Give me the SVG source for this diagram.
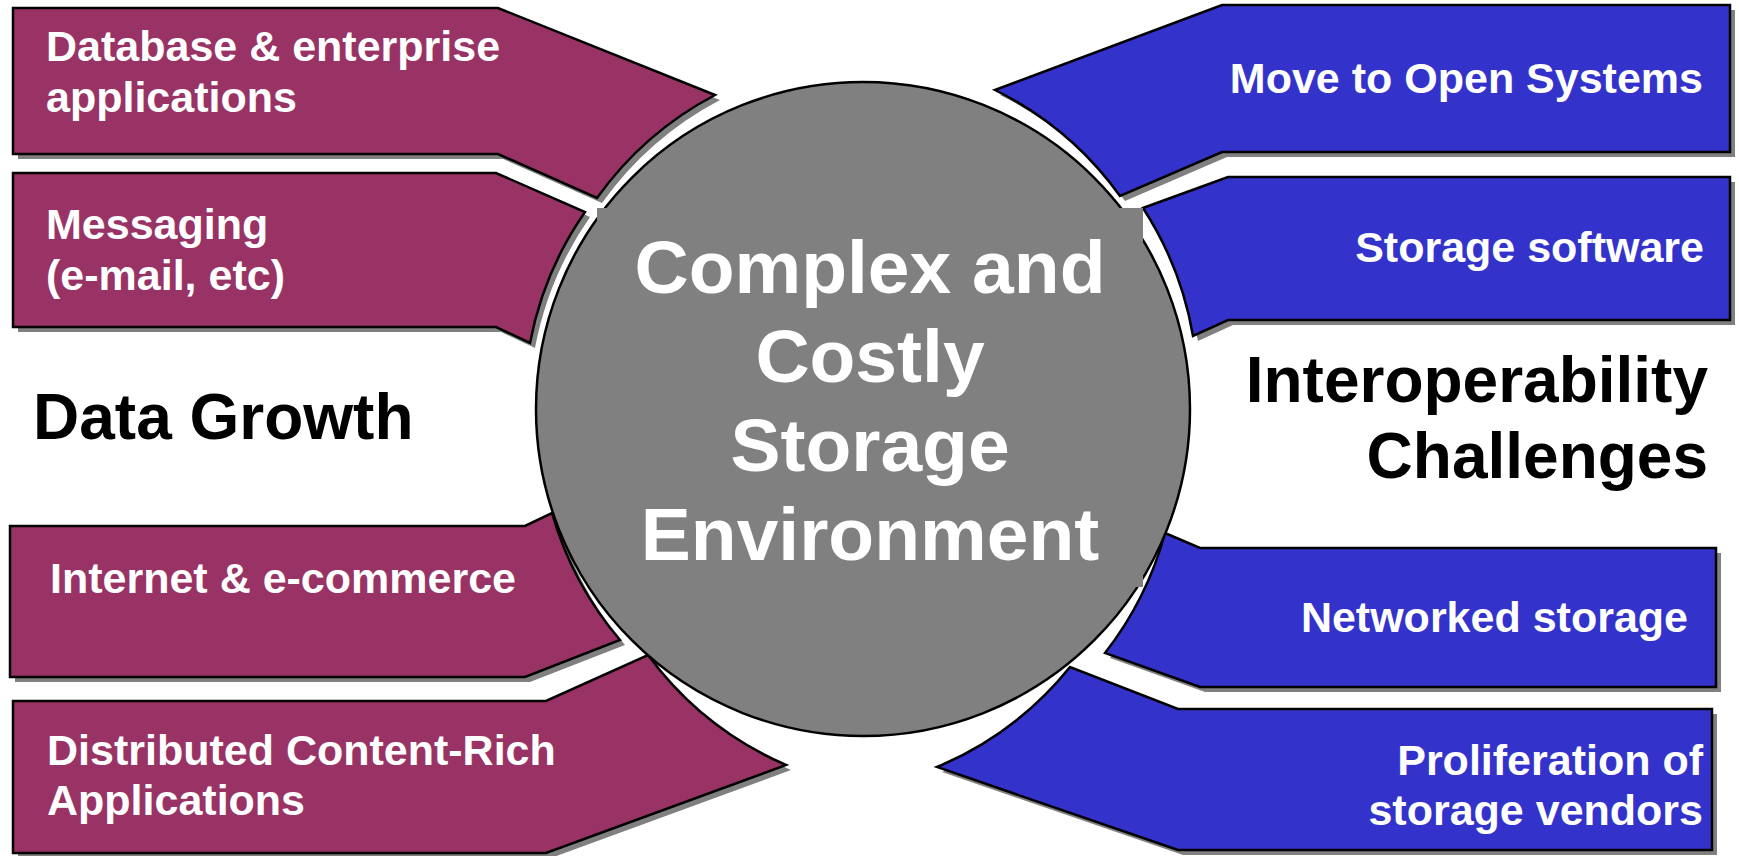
<svg xmlns="http://www.w3.org/2000/svg" width="1739" height="856" viewBox="0 0 1739 856">
<style>
.sh{fill:#808080;stroke:none}
.pu{fill:#993366;stroke:#000;stroke-width:2.5;stroke-linejoin:miter}
.bl{fill:#3333CC;stroke:#000;stroke-width:2.5;stroke-linejoin:miter}
.lbl{font-family:"Liberation Sans",Arial,sans-serif;font-weight:bold;font-size:43px;fill:#fff}
.r{text-anchor:end}
.ttl{font-family:"Liberation Sans",Arial,sans-serif;font-weight:bold;font-size:64px;fill:#000}
.ctr{font-family:"Liberation Sans",Arial,sans-serif;font-weight:bold;font-size:75px;fill:#fff;text-anchor:middle}
</style>
<defs>
<path id="p1" d="M13,8 L498,8 L715,95 A340,340 0 0,0 597,198 L498,154 L13,154 Z"/>
<path id="p2" d="M13,173 L496,173 L585,212 A340,340 0 0,0 530,343 L496,327 L13,327 Z"/>
<path id="p3" d="M10,526 L525,526 L552,513 A340,340 0 0,0 620,640 L525,677 L10,677 Z"/>
<path id="p4" d="M13,701 L546,701 L648,655 A340,340 0 0,0 786,765 L546,853 L13,853 Z"/>
<path id="p5" d="M1730,5 L1222,5 L995,90 A340,340 0 0,1 1120,196 L1222,152 L1730,152 Z"/>
<path id="p6" d="M1730,177 L1228,177 L1143,208 A340,340 0 0,1 1193,336 L1228,320 L1730,320 Z"/>
<path id="p7" d="M1716,548 L1200,548 L1165,533 A340,340 0 0,1 1105,653 L1200,687 L1716,687 Z"/>
<path id="p8" d="M1712,709 L1178,709 L1070,667 A340,340 0 0,1 937,767 L1178,850 L1712,850 Z"/>
</defs>
<rect width="1739" height="856" fill="#fff"/>
<g id="connectors"></g>
<g id="n-database">
<use href="#p1" class="sh" transform="translate(5,5)"/>
<use href="#p1" class="pu"/>
<text class="lbl" x="46" y="61">Database &amp; enterprise</text>
<text class="lbl" x="46" y="112">applications</text>
</g>
<g id="n-messaging">
<use href="#p2" class="sh" transform="translate(5,5)"/>
<use href="#p2" class="pu"/>
<text class="lbl" x="46" y="239">Messaging</text>
<text class="lbl" x="46" y="290">(e-mail, etc)</text>
</g>
<g id="n-internet">
<use href="#p3" class="sh" transform="translate(5,5)"/>
<use href="#p3" class="pu"/>
<text class="lbl" x="50" y="593">Internet &amp; e-commerce</text>
</g>
<g id="n-distributed">
<use href="#p4" class="sh" transform="translate(5,5)"/>
<use href="#p4" class="pu"/>
<text class="lbl" x="47" y="765">Distributed Content-Rich</text>
<text class="lbl" x="47" y="815">Applications</text>
</g>
<g id="n-open">
<use href="#p5" class="sh" transform="translate(5,5)"/>
<use href="#p5" class="bl"/>
<text class="lbl r" x="1703" y="93">Move to Open Systems</text>
</g>
<g id="n-software">
<use href="#p6" class="sh" transform="translate(5,5)"/>
<use href="#p6" class="bl"/>
<text class="lbl r" x="1704" y="262">Storage software</text>
</g>
<g id="n-networked">
<use href="#p7" class="sh" transform="translate(5,5)"/>
<use href="#p7" class="bl"/>
<text class="lbl r" x="1688" y="632">Networked storage</text>
</g>
<g id="n-vendors">
<use href="#p8" class="sh" transform="translate(5,5)"/>
<use href="#p8" class="bl"/>
<text class="lbl r" x="1703" y="775">Proliferation of</text>
<text class="lbl r" x="1703" y="825">storage vendors</text>
</g>
<g id="n-center">
<circle cx="863" cy="409" r="327" fill="#808080" stroke="#000" stroke-width="2.5"/>
<rect x="597" y="208" width="546" height="379" fill="#808080"/>
<text class="ctr" x="870" y="293">Complex and</text>
<text class="ctr" x="870" y="382">Costly</text>
<text class="ctr" x="870" y="471">Storage</text>
<text class="ctr" x="870" y="560">Environment</text>
</g>
<g id="n-datagrowth">
<text class="ttl" x="33" y="439">Data Growth</text>
</g>
<g id="n-interop">
<text class="ttl r" x="1708" y="402">Interoperability</text>
<text class="ttl r" x="1708" y="478">Challenges</text>
</g>
</svg>
